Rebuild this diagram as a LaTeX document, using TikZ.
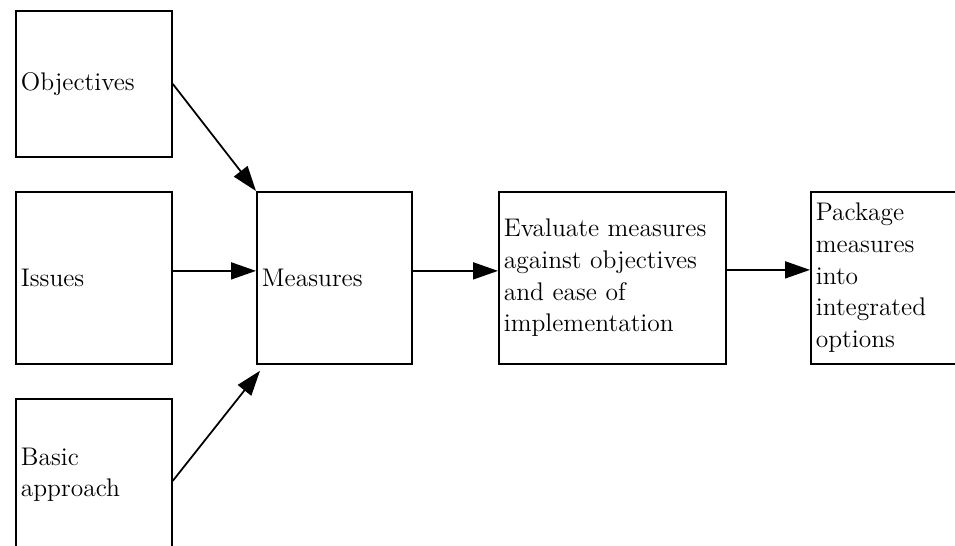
\documentclass[tikz,border=0pt]{standalone}
\usetikzlibrary{arrows.meta,positioning}
\begin{document}
\begin{tikzpicture}[>={Triangle[length=0.5cm,width=0.34cm]}, line width=1pt,
    font=\fontsize{14.5pt}{18pt}\selectfont,
    box/.style={draw, inner sep=0.1cm, align=left, anchor=north west}]
    \useasboundingbox (0,0) rectangle (19.1,-10.9);
    % inputs
    \node[box, text width=2.92cm, minimum height=2.92cm] (obj) at (0.30,-0.20) {Objectives};
    \node[box, text width=2.92cm, minimum height=3.44cm] (iss) at (0.30,-3.82) {Issues};
    \node[box, text width=2.92cm, minimum height=3.04cm] (bas) at (0.30,-7.96) {Basic\\approach};
    % main row
    \node[box, text width=2.90cm, minimum height=3.44cm] (meas) at (5.12,-3.82) {Measures};
    \node[box, text width=4.34cm, minimum height=3.44cm] (eval) at (9.96,-3.82)
        {Evaluate measures\\against objectives\\and ease of\\implementation};
    \node[box, text width=2.90cm, minimum height=3.44cm] (pack) at (16.20,-3.82)
        {Package\\measures\\into\\integrated\\options};
    % connectors
    \draw[->] (obj.east) -- (meas.north west);
    \draw[->] ([yshift=0.14cm]iss.east) -- ([yshift=0.14cm]meas.west);
    \draw[->] ([yshift=-0.12cm]bas.east) -- ([shift={(0.08,-0.12)}]meas.south west);
    \draw[->] ([yshift=0.14cm]meas.east) -- ([yshift=0.14cm]eval.west);
    \draw[->] ([yshift=0.16cm]eval.east) -- ([yshift=0.16cm]pack.west);
\end{tikzpicture}
\end{document}
